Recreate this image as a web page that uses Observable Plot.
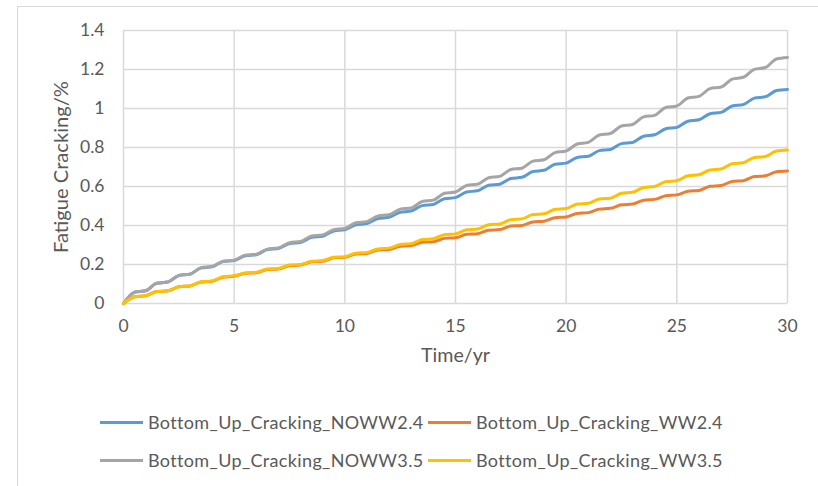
<!DOCTYPE html>
<html>
<head>
<meta charset="utf-8">
<script src="https://cdn.jsdelivr.net/npm/d3@7"></script>
<script src="https://cdn.jsdelivr.net/npm/@observablehq/plot@0.6"></script>
<style>
  html, body { margin: 0; padding: 0; background: #fff; overflow: hidden; width: 818px; height: 486px; }
  #frame { position: absolute; left: 17px; top: 6px; width: 900px; height: 600px; border: 1px solid #d9d9d9; box-sizing: border-box; }
  #chart { position: absolute; left: 0; top: 0; }
  .legend { position: absolute; font-family: Lato, sans-serif; font-size: 18px; letter-spacing: 0.35px; color: #595959; white-space: nowrap; }
  .item { position: absolute; display: flex; align-items: center; height: 20px; }
  .sw { width: 43px; height: 3px; margin-right: 5px; }
</style>
</head>
<body>
<div id="frame"></div>
<div id="chart"></div>
<div id="legend"></div>
<script>
// ---- data ----
const seriesNames = [
  "Bottom_Up_Cracking_NOWW2.4",
  "Bottom_Up_Cracking_WW2.4",
  "Bottom_Up_Cracking_NOWW3.5",
  "Bottom_Up_Cracking_WW3.5"
];
const seriesColors = ["#5B9BD5", "#ED7D31", "#A5A5A5", "#FFC000"];

const timeYear = [0,1,2,3,4,5,6,7,8,9,10,11,12,13,14,15,16,17,18,19,20,21,22,23,24,25,26,27,28,29,30];
const timeMid = [0.5,1.5,2.5,3.5,4.5,5.5,6.5,7.5,8.5,9.5,10.5,11.5,12.5,13.5,14.5,15.5,16.5,17.5,18.5,19.5,20.5,21.5,22.5,23.5,24.5,25.5,26.5,27.5,28.5,29.5];

// NOWW2.4 (blue)
const noww24Year = [0,0.065,0.11,0.15,0.188,0.22,0.25,0.282,0.313,0.345,0.378,0.41,0.442,0.474,0.508,0.543,0.578,0.612,0.647,0.683,0.72,0.755,0.79,0.826,0.865,0.903,0.942,0.98,1.02,1.06,1.098];
const noww24Mid  = [0.058,0.104,0.144,0.182,0.215,0.245,0.277,0.307,0.339,0.372,0.404,0.436,0.468,0.502,0.537,0.572,0.606,0.641,0.677,0.714,0.749,0.784,0.82,0.858,0.896,0.935,0.973,1.013,1.053,1.092];
// WW2.4 (orange)
const ww24Year = [0,0.04,0.065,0.09,0.114,0.14,0.158,0.177,0.197,0.217,0.237,0.257,0.277,0.297,0.317,0.337,0.358,0.379,0.4,0.422,0.444,0.466,0.488,0.51,0.534,0.557,0.58,0.605,0.63,0.655,0.68];
const ww24Mid  = [0.035,0.061,0.086,0.11,0.135,0.155,0.174,0.194,0.214,0.234,0.254,0.274,0.294,0.314,0.334,0.355,0.376,0.397,0.418,0.44,0.462,0.484,0.506,0.53,0.553,0.576,0.601,0.626,0.651,0.676];
// NOWW3.5 (gray)
const noww35Year = [0,0.065,0.11,0.15,0.19,0.222,0.253,0.285,0.318,0.352,0.385,0.42,0.455,0.49,0.53,0.572,0.612,0.652,0.694,0.737,0.782,0.826,0.872,0.918,0.965,1.013,1.062,1.11,1.16,1.21,1.262];
const noww35Mid  = [0.058,0.104,0.144,0.184,0.217,0.248,0.279,0.312,0.346,0.379,0.414,0.449,0.484,0.523,0.565,0.605,0.645,0.687,0.73,0.774,0.818,0.864,0.91,0.957,1.005,1.054,1.102,1.151,1.201,1.254];
// WW3.5 (yellow)
const ww35Year = [0,0.04,0.065,0.09,0.115,0.142,0.16,0.18,0.2,0.22,0.24,0.262,0.284,0.307,0.332,0.357,0.382,0.408,0.434,0.46,0.487,0.514,0.54,0.57,0.6,0.63,0.66,0.69,0.722,0.754,0.787];
const ww35Mid  = [0.035,0.061,0.086,0.111,0.137,0.157,0.177,0.197,0.217,0.237,0.258,0.28,0.303,0.328,0.353,0.378,0.404,0.43,0.456,0.483,0.51,0.536,0.565,0.595,0.625,0.655,0.685,0.717,0.749,0.782];

const xTicks = [0,5,10,15,20,25,30];
const yTicks = [0,0.2,0.4,0.6,0.8,1,1.2,1.4];
const yTickLabels = ["0","0.2","0.4","0.6","0.8","1","1.2","1.4"];
const xTitle = "Time/yr";
const yTitle = "Fatigue Cracking/%";

// ---- build tables ----
const yearArrays = [noww24Year, ww24Year, noww35Year, ww35Year];
const midArrays = [noww24Mid, ww24Mid, noww35Mid, ww35Mid];
const tables = seriesNames.map((name, s) => {
  const rows = [];
  timeYear.forEach((t, i) => rows.push({t, v: yearArrays[s][i], name}));
  timeMid.forEach((t, i) => rows.push({t, v: midArrays[s][i], name}));
  rows.sort((a, b) => a.t - b.t);
  return rows;
});

const grid = "#d9d9d9";
const textColor = "#595959";

const chart = Plot.plot({
  width: 818,
  height: 380,
  marginTop: 30,
  marginBottom: 77,
  marginLeft: 123,
  marginRight: 31,
  style: {fontFamily: "Lato, sans-serif", fontSize: "17.5px", color: textColor, background: "transparent"},
  x: {domain: [0, 30]},
  y: {domain: [0, 1.4]},
  marks: [
    Plot.gridX(xTicks, {stroke: grid, strokeOpacity: 1, strokeWidth: 1.5}),
    Plot.gridY(yTicks, {stroke: grid, strokeOpacity: 1, strokeWidth: 1.5}),
    Plot.axisX(xTicks, {tickSize: 0, tickPadding: 16, label: null, fill: textColor}),
    Plot.axisY(yTicks, {tickSize: 0, tickPadding: 19, label: null, fill: textColor,
      tickFormat: d => yTickLabels[yTicks.indexOf(d)]}),
    ...tables.map((rows, s) => Plot.line(rows, {
      x: "t", y: "v", stroke: seriesColors[s], strokeWidth: 3, curve: "monotone-x"
    })),
    Plot.text([yTitle], {text: d => d, frameAnchor: "left", dx: -62, rotate: -90, textAnchor: "middle",
      fill: textColor, fontSize: 19, className: "ytitle"}),
    Plot.text([xTitle], {text: d => d, frameAnchor: "bottom", dy: 58, fill: textColor, fontSize: 19.5, className: "xtitle"})
  ]
});
// stretch the titles to the reference length
const yt = chart.querySelector(".ytitle text");
if (yt) { yt.setAttribute("textLength", "172"); yt.setAttribute("lengthAdjust", "spacingAndGlyphs"); }
const xt = chart.querySelector(".xtitle text");
if (xt) { xt.setAttribute("textLength", "69"); xt.setAttribute("lengthAdjust", "spacingAndGlyphs"); }
document.getElementById("chart").appendChild(chart);

// ---- legend ----
const legend = document.getElementById("legend");
legend.className = "legend";
const positions = [
  {left: 100, top: 412},
  {left: 428, top: 412},
  {left: 100, top: 450},
  {left: 428, top: 450}
];
seriesNames.forEach((name, i) => {
  const item = document.createElement("div");
  item.className = "item";
  item.style.left = positions[i].left + "px";
  item.style.top = positions[i].top + "px";
  const sw = document.createElement("div");
  sw.className = "sw";
  sw.style.background = seriesColors[i];
  const label = document.createElement("span");
  label.textContent = name;
  item.appendChild(sw);
  item.appendChild(label);
  legend.appendChild(item);
});
</script>
</body>
</html>
